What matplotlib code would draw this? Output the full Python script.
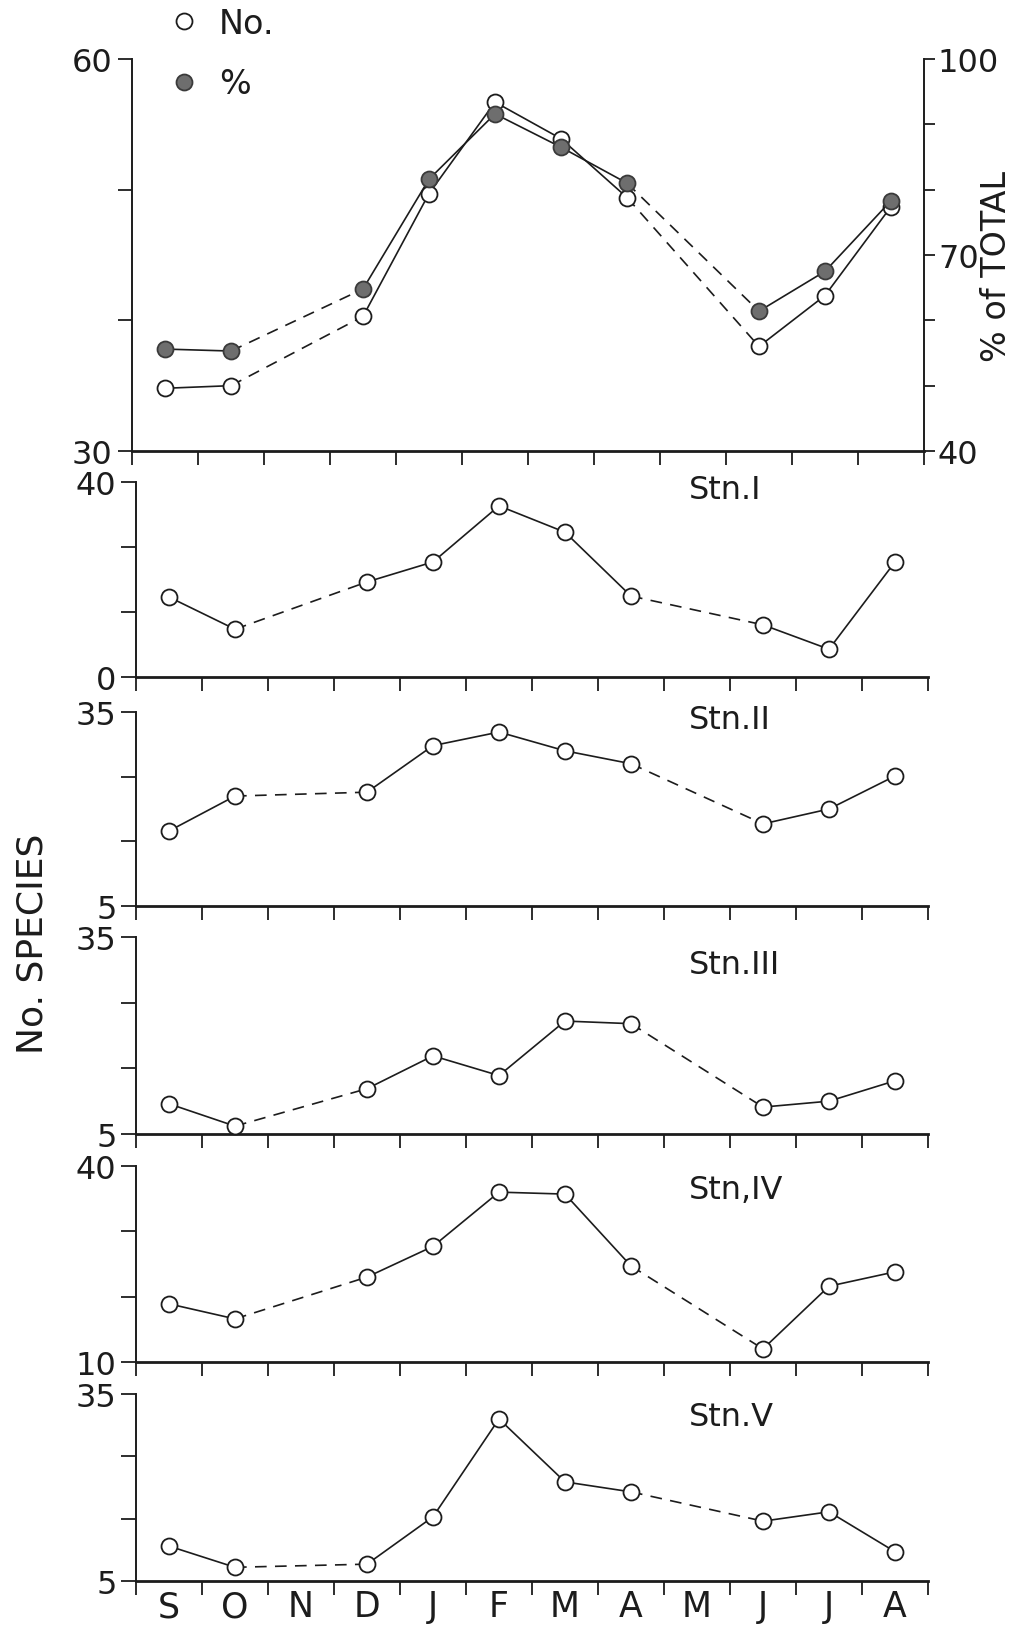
import matplotlib
matplotlib.use('Agg')
import matplotlib.pyplot as plt
from matplotlib.lines import Line2D

plt.rcParams['font.family'] = ['DejaVu Sans']

W, H = 1017, 1631

months = ['S', 'O', 'N', 'D', 'J', 'F', 'M', 'A', 'M', 'J', 'J', 'A']
# months actually sampled (no samples in Nov and May)
sample_idx = [0, 1, 3, 4, 5, 6, 7, 9, 10, 11]

# top panel: total number of species and % of total
no_total = [34.8, 35.0, 40.3, 49.7, 56.7, 53.9, 49.4, 38.0, 41.9, 48.7]
pct_total = [55.6, 55.3, 64.8, 81.6, 91.6, 86.5, 81.0, 61.4, 67.5, 78.3]

# stations
stn_names = ['Stn.I', 'Stn.II', 'Stn.III', 'Stn,IV', 'Stn.V']
stn1 = [16.4, 9.8, 19.5, 23.6, 35.1, 29.7, 16.6, 10.7, 5.7, 23.6]
stn2 = [16.6, 22.0, 22.6, 29.8, 31.9, 29.0, 27.0, 17.7, 20.0, 25.1]
stn3 = [9.6, 6.2, 11.9, 16.9, 13.9, 22.2, 21.8, 9.1, 10.0, 13.1]
stn4 = [18.9, 16.6, 23.0, 27.7, 36.0, 35.7, 24.7, 12.0, 21.6, 23.8]
stn5 = [10.6, 7.2, 7.7, 15.3, 31.0, 20.9, 19.3, 14.6, 16.1, 9.7]
stn_vals = [stn1, stn2, stn3, stn4, stn5]
stn_lims = [(0, 40), (5, 35), (5, 35), (10, 40), (5, 35)]

INK = '#1c1c1c'


def px_rect(x0, x1, ytop, ybot):
    return [x0 / W, 1 - ybot / H, (x1 - x0) / W, (ybot - ytop) / H]


def draw_series(ax, vals, face, edge):
    x = [i + 0.5 for i in sample_idx]
    for k in range(len(x) - 1):
        gap = sample_idx[k + 1] - sample_idx[k] > 1
        ls = (0, (7, 5)) if gap else '-'
        ax.plot(x[k:k + 2], vals[k:k + 2], color=INK, lw=1.2, ls=ls,
                clip_on=False, zorder=2)
    ax.plot(x, vals, ls='none', marker='o', ms=11.5, mfc=face, mec=edge,
            mew=1.3, clip_on=False, zorder=3)


def style_xaxis(ax, labels):
    ax.set_xlim(0, 12)
    ax.set_xticks(range(13))
    ax.set_xticklabels([])
    ax.tick_params(axis='x', which='major', direction='out', length=10,
                   width=1.3, color=INK)
    ax.set_xticks([i + 0.5 for i in range(12)], minor=True)
    if labels:
        ax.set_xticklabels(months, minor=True, fontsize=25, color=INK)
    ax.tick_params(axis='x', which='minor', length=0, pad=6)
    ax.spines['bottom'].set_linewidth(2.0)
    ax.spines['bottom'].set_color(INK)
    ax.spines['left'].set_linewidth(1.4)
    ax.spines['left'].set_color(INK)
    ax.spines['top'].set_visible(False)


fig = plt.figure(figsize=(W / 100, H / 100), dpi=100)

# ---- top panel ----
ax0 = fig.add_axes(px_rect(132, 924, 60, 452))
draw_series(ax0, no_total, 'white', INK)
ax0.set_ylim(30, 60)
ax0.set_yticks([30, 40, 50, 60])
ax0.set_yticklabels(['30', '', '', '60'], fontsize=23, color=INK)
ax0.tick_params(axis='y', direction='out', length=10, width=1.3, color=INK, pad=4)
style_xaxis(ax0, False)
ax0.spines['right'].set_visible(False)

ax0r = ax0.twinx()
draw_series(ax0r, pct_total, '#6e6e6e', '#3a3a3a')
ax0r.set_ylim(40, 100)
ax0r.set_yticks(range(40, 101, 10))
ax0r.set_yticklabels(['40', '', '', '70', '', '', '100'], fontsize=23, color=INK)
ax0r.tick_params(axis='y', direction='out', length=8, width=1.3, color=INK, pad=2)
for s in ['top', 'left', 'bottom']:
    ax0r.spines[s].set_visible(False)
ax0r.spines['right'].set_linewidth(1.4)
ax0r.spines['right'].set_color(INK)

# ---- station panels ----
rows = [(483, 678), (713, 907), (938, 1135), (1167, 1363), (1395, 1582)]
name_y = [0.96, 0.96, 0.86, 0.88, 0.88]
for n in range(5):
    ax = fig.add_axes(px_rect(136, 928, rows[n][0], rows[n][1]))
    draw_series(ax, stn_vals[n], 'white', INK)
    lo, hi = stn_lims[n]
    d = (hi - lo) / 3
    ax.set_ylim(lo, hi)
    ax.set_yticks([lo, lo + d, lo + 2 * d, hi])
    ax.set_yticklabels([str(lo), '', '', str(hi)], fontsize=23, color=INK)
    ax.tick_params(axis='y', direction='out', length=11, width=1.3, color=INK, pad=3)
    style_xaxis(ax, n == 4)
    ax.spines['right'].set_visible(False)
    ax.text(0.698, name_y[n], stn_names[n], transform=ax.transAxes,
            ha='left', va='center', fontsize=23, color=INK)

fig.text(33 / W, 1 - 944 / H, 'No. SPECIES', rotation=90, ha='center',
         va='center', fontsize=26, color=INK)
fig.text(996 / W, 1 - 267 / H, '% of TOTAL', rotation=90, ha='center',
         va='center', fontsize=24, color=INK)

handles = [Line2D([], [], ls='none', marker='o', ms=11.5, mfc='white', mec=INK, mew=1.3),
           Line2D([], [], ls='none', marker='o', ms=11.5, mfc='#6e6e6e', mec='#3a3a3a', mew=1.3)]
fig.legend(handles, ['No.', '%'], loc='upper left',
           bbox_to_anchor=(167 / W, 1 - 8 / H), frameon=False, fontsize=24,
           handlelength=1.0, handletextpad=0.55, labelspacing=0.82,
           borderpad=0, borderaxespad=0, labelcolor=INK)

fig.savefig('out.png', dpi=100, facecolor='white')
